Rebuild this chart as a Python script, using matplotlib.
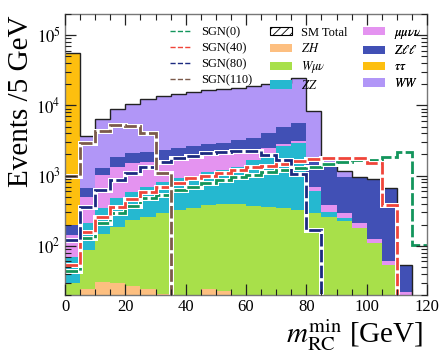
import numpy as np
import matplotlib
matplotlib.use("Agg")
import matplotlib.pyplot as plt
from matplotlib.lines import Line2D
from matplotlib.patches import Patch
from matplotlib.ticker import MultipleLocator, LogLocator, FixedLocator

plt.rcParams['font.family'] = ['Liberation Serif', 'DejaVu Serif']
plt.rcParams['mathtext.fontset'] = 'stix'
plt.rcParams['hatch.linewidth'] = 0.6

# 5 GeV bins, 0 - 120 GeV
edges = np.arange(0, 125, 5)

# backgrounds, events per bin (stack order bottom -> top)
zh   = [0, 24, 31, 30, 27, 24, 21, 14, 14, 24, 23, 14, 14, 12, 12, 12, 10, 8, 0, 0, 0, 0, 0, 0]
wmv  = [30, 63, 118, 156, 206, 236, 270, 310, 335, 352, 368, 377, 359, 345, 331, 309, 284, 252, 228, 178, 109, 54, 0, 0]
zz   = [40, 125, 197, 294, 352, 429, 520, 592, 637, 759, 811, 949, 1294, 1673, 2297, 2559, 316, 47, 19, 0, 0, 0, 0, 0]
mmvv = [73, 285, 674, 845, 925, 871, 856, 846, 834, 765, 761, 735, 643, 440, 180, 255, 85, 75, 44, 32, 16, 6, 22, 0]
zll  = [55, 170, 262, 515, 590, 610, 643, 683, 820, 920, 977, 1135, 1120, 1530, 2140, 2515, 1083, 988, 664, 736, 785, 607, 32, 0]
tautau = [55300, 0, 0, 0, 0, 0, 0, 0, 0, 0, 0, 0, 0, 0, 0, 0, 0, 0, 0, 0, 0, 0, 0, 0]
ww   = [0, 2993, 5098, 7020, 8500, 10330, 11290, 12055, 12860, 13980, 14360, 14690, 15370, 16100, 15840, 18550, 6602, 390, 205, 0, 0, 0, 0, 0]

# signals
sgn0   = [44, 130, 214, 291, 370, 475, 530, 624, 695, 777, 865, 946, 1020, 1114, 1202, 1271, 1340, 1449, 1578, 1667, 1694, 1858, 2190, 103]
sgn40  = [53, 159, 260, 361, 465, 590, 695, 794, 916, 986, 1100, 1202, 1312, 1383, 1462, 1629, 1706, 1762, 1798, 1778, 1527, 382, 0, 0]
sgn80  = [123, 361, 624, 865, 1080, 1340, 1585, 1762, 1900, 2075, 2190, 2240, 2240, 1963, 1667, 1050, 168, 0, 0, 0, 0, 0, 0, 0]
sgn110 = [1000, 2880, 4300, 5250, 5100, 4000, 1080, 0, 0, 0, 0, 0, 0, 0, 0, 0, 0, 0, 0, 0, 0, 0, 0, 0]

bkg = [zh, wmv, zz, mmvv, zll, tautau, ww]
bkg_labels = ['$ZH$', r'$W\mu\nu$', '$ZZ$', r'$\mu\mu\nu\nu$', r'$Z\ell\ell$', r'$\tau\tau$', '$WW$']
bkg_colors = ['#fdbf80', '#a8e04a', '#25b8d0', '#e493f0', '#4150b5', '#fdbf0f', '#b196f7']

sgn = [sgn0, sgn40, sgn80, sgn110]
sgn_labels = ['SGN(0)', 'SGN(40)', 'SGN(80)', 'SGN(110)']
sgn_colors = ['#13955c', '#f0453a', '#1c2a80', '#7b5a4b']

fig = plt.figure(figsize=(4.4, 3.52), dpi=100)
ax = fig.add_axes([65/440, 1-295/352, 362/440, 281/352])
ax.set_yscale('log')

low = np.full(len(edges)-1, 1e-3)
for vals, c in zip(bkg, bkg_colors):
    high = low + np.array(vals, dtype=float)
    ax.stairs(high, edges, baseline=low, fill=True, color=c, lw=0)
    low = high
total = low
ax.stairs(total, edges, baseline=None, color='#222222', lw=1.0)

for vals, c in zip(sgn, sgn_colors):
    v = np.array(vals, dtype=float)
    v = np.where(v > 0, v, 1e-3)
    ax.stairs(v, edges, baseline=None, color='white', lw=3.6)
    ax.stairs(v, edges, baseline=None, color=c, lw=2.0, ls=(0, (4.5, 1.2)))

ax.set_xlim(0, 120)
ax.set_ylim(20, 2e5)
ax.set_axisbelow(False)

ax.xaxis.set_major_locator(MultipleLocator(20))
ax.xaxis.set_minor_locator(MultipleLocator(5))
ax.yaxis.set_major_locator(FixedLocator([1e2, 1e3, 1e4, 1e5]))
ax.yaxis.set_minor_locator(LogLocator(base=10, subs=np.arange(2, 10)))
ax.set_yticklabels([r'$10^{2}$', r'$10^{3}$', r'$10^{4}$', r'$10^{5}$'])
ax.tick_params(which='both', direction='in', top=True, right=True, color='#222222')
ax.tick_params(which='major', length=8, width=0.9, labelsize=12, pad=3)
ax.tick_params(which='minor', length=4.5, width=0.8)
for s in ax.spines.values():
    s.set_color('#777777')
    s.set_linewidth(1.0)

ax.set_ylabel('Events /5 GeV', fontsize=21, loc='top')
ax.yaxis.set_label_coords(-0.085, 0.993)
ax.set_xlabel(r'$m_{\rm RC}^{\rm min}$ [GeV]', fontsize=21, loc='right')
ax.xaxis.set_label_coords(0.99, -0.08)

sig_h = [Line2D([], [], color=c, ls='--', lw=1.0) for c in sgn_colors]
sm_h = Patch(facecolor='white', edgecolor='black', hatch='////', lw=0.8)
bkg_h = [Patch(facecolor=c, lw=0) for c in bkg_colors]

# three legend columns placed separately
cols = [
    (sig_h, sgn_labels, 0.290),
    ([sm_h] + bkg_h[:3], ['SM Total'] + bkg_labels[:3], 0.566),
    (bkg_h[3:], bkg_labels[3:], 0.823),
]
for hs, ls, x in cols:
    leg = ax.legend(hs, ls, loc='upper left', bbox_to_anchor=(x, 0.955),
                    frameon=False, fontsize=9, handlelength=1.75,
                    handleheight=0.65, handletextpad=0.75, labelspacing=0.3,
                    borderpad=0, borderaxespad=0)
    ax.add_artist(leg)

fig.savefig('out.png', dpi=100)
